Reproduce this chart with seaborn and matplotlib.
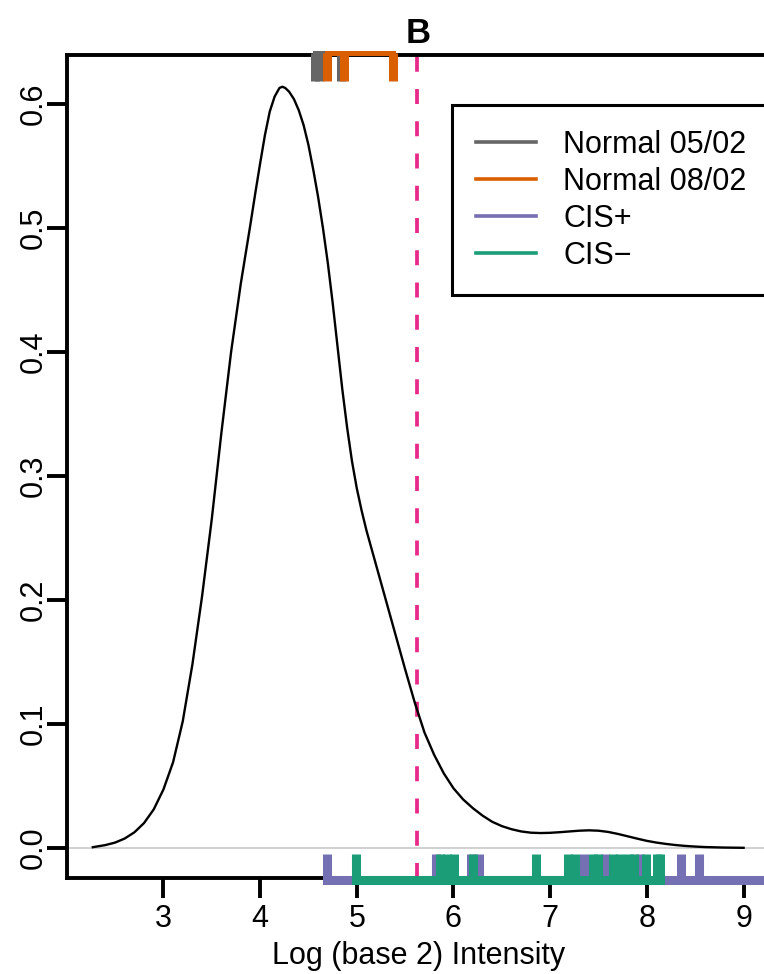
import numpy as np
import pandas as pd
import seaborn as sns
import matplotlib
matplotlib.use("Agg")
import matplotlib.pyplot as plt
from matplotlib.lines import Line2D

plt.rcParams['font.family'] = ['Liberation Sans', 'DejaVu Sans']

# density curve
density_x = [2.27, 2.40, 2.50, 2.60, 2.70, 2.80, 2.90, 3.00, 3.10, 3.20, 3.30, 3.40, 3.50,
             3.60, 3.70, 3.80, 3.90, 3.95, 4.00, 4.05, 4.10, 4.15, 4.20, 4.23, 4.26, 4.30,
             4.35, 4.40, 4.45, 4.50, 4.55, 4.60, 4.65, 4.70, 4.75, 4.80, 4.85, 4.90, 4.95,
             5.00, 5.05, 5.10, 5.20, 5.30, 5.40, 5.50, 5.60, 5.70, 5.80, 5.90, 6.00, 6.10,
             6.20, 6.30, 6.40, 6.50, 6.60, 6.70, 6.80, 6.90, 7.00, 7.10, 7.20, 7.30, 7.40,
             7.50, 7.60, 7.70, 7.80, 7.90, 8.00, 8.10, 8.20, 8.30, 8.40, 8.50, 8.60, 8.70,
             8.80, 8.90, 9.00]
density_y = [0.0005, 0.0022, 0.0042, 0.0075, 0.0125, 0.020, 0.031, 0.047, 0.069, 0.102, 0.148, 0.203, 0.265,
             0.335, 0.400, 0.455, 0.503, 0.528, 0.552, 0.575, 0.594, 0.606, 0.613, 0.614, 0.613, 0.610,
             0.604, 0.595, 0.583, 0.567, 0.547, 0.525, 0.500, 0.472, 0.440, 0.405, 0.370, 0.339, 0.312,
             0.290, 0.272, 0.256, 0.228, 0.200, 0.172, 0.144, 0.117, 0.093, 0.075, 0.060, 0.048, 0.039,
             0.032, 0.026, 0.021, 0.0175, 0.0150, 0.0132, 0.0122, 0.0119, 0.0121, 0.0126, 0.0132, 0.0138, 0.0141,
             0.0138, 0.0128, 0.0112, 0.0093, 0.0074, 0.0056, 0.0042, 0.0031, 0.0022, 0.0015, 0.0010, 0.0006, 0.0004,
             0.0002, 0.0001, 0.0000]

normal_0502 = [4.57, 4.61, 4.84]
normal_0802 = [4.69, 4.87, 5.37]
cis_plus = [4.69, 5.82, 6.18, 6.26, 7.35, 7.57, 7.93, 8.35, 8.54, 9.50]
cis_minus = [4.99, 5.86, 5.93, 6.01, 6.20, 6.85, 7.18, 7.26, 7.44, 7.49,
             7.65, 7.72, 7.81, 7.87, 7.99, 8.10, 8.14]
threshold = 5.62

series_labels = ["Normal 05/02", "Normal 08/02", "CIS+", "CIS\u2212"]
series_colors = ["#666666", "#D95F02", "#7570B3", "#1B9E77"]

x_ticks = [3, 4, 5, 6, 7, 8, 9]
y_ticks = [0.0, 0.1, 0.2, 0.3, 0.4, 0.5, 0.6]

W, H = 764, 974
fig = plt.figure(figsize=(W / 100, H / 100), dpi=100)
ax = fig.add_axes([66.7 / W, (H - 878.3) / H, (769.7 - 66.7) / W, (878.3 - 55) / H])

xlim = (2.0, 9.27)
ylim = (-0.0246, 0.6396)

# zero line
ax.axhline(0, color="#C4C4C4", lw=1.1, zorder=1)

df = pd.DataFrame({"x": density_x, "y": density_y})
sns.lineplot(data=df, x="x", y="y", ax=ax, color="black", lw=1.7, estimator=None, sort=False, zorder=3)

# threshold
ax.axvline(threshold, color="#E7298A", lw=2.7, dashes=(4.0, 4.6), zorder=2)

rug_lw = 6.5
# top rugs
top_line_y = 0.6414
top_tick_end = 0.6184
for vals, col in [(normal_0502, series_colors[0]), (normal_0802, series_colors[1])]:
    ax.vlines(vals, top_line_y, top_tick_end, colors=col, lw=rug_lw, clip_on=False, capstyle='butt', zorder=5)
    ax.hlines(top_line_y, min(vals), max(vals), colors=col, lw=3.6, clip_on=False, capstyle='projecting', zorder=5)

bot_line_y = -0.0259
bot_tick_end = -0.0048
for vals, col in [(cis_plus, series_colors[2]), (cis_minus, series_colors[3])]:
    ax.vlines(vals, bot_line_y, bot_tick_end, colors=col, lw=rug_lw, clip_on=False, capstyle='butt', zorder=5)
    ax.hlines(bot_line_y, min(vals), max(vals), colors=col, lw=rug_lw, clip_on=False, capstyle='projecting', zorder=5)

ax.set_xlim(*xlim)
ax.set_ylim(*ylim)
ax.set_xticks(x_ticks)
ax.set_xticklabels([str(t) for t in x_ticks])
ax.set_yticks(y_ticks)
ax.set_yticklabels([f"{t:.1f}" for t in y_ticks], rotation=90, va="center")
ax.tick_params(axis="both", length=14.4, width=2.8, labelsize=22, color="black")
ax.tick_params(axis="x", pad=4)
ax.tick_params(axis="y", pad=-1.5)
for s in ax.spines.values():
    s.set_linewidth(2.8)
    s.set_color("black")
    s.set_zorder(4)

ax.set_xlabel("Log (base 2) Intensity", fontsize=22, labelpad=5)
ax.set_ylabel("")
ax.set_title("B", fontsize=25, fontweight="bold", pad=9)

handles = [Line2D([0], [0], color=c, lw=2.6) for c in series_colors]
leg = ax.legend(handles, series_labels, loc="upper left",
                bbox_to_anchor=(0.548, 0.0, 0.50, 0.939), mode="expand",
                fontsize=22, frameon=True, fancybox=False, framealpha=1, edgecolor="black",
                handlelength=1.96, handletextpad=0.88, labelspacing=0.23, borderpad=0.80,
                borderaxespad=0)
leg.get_frame().set_linewidth(2.2)

fig.savefig("out.png", dpi=100)
